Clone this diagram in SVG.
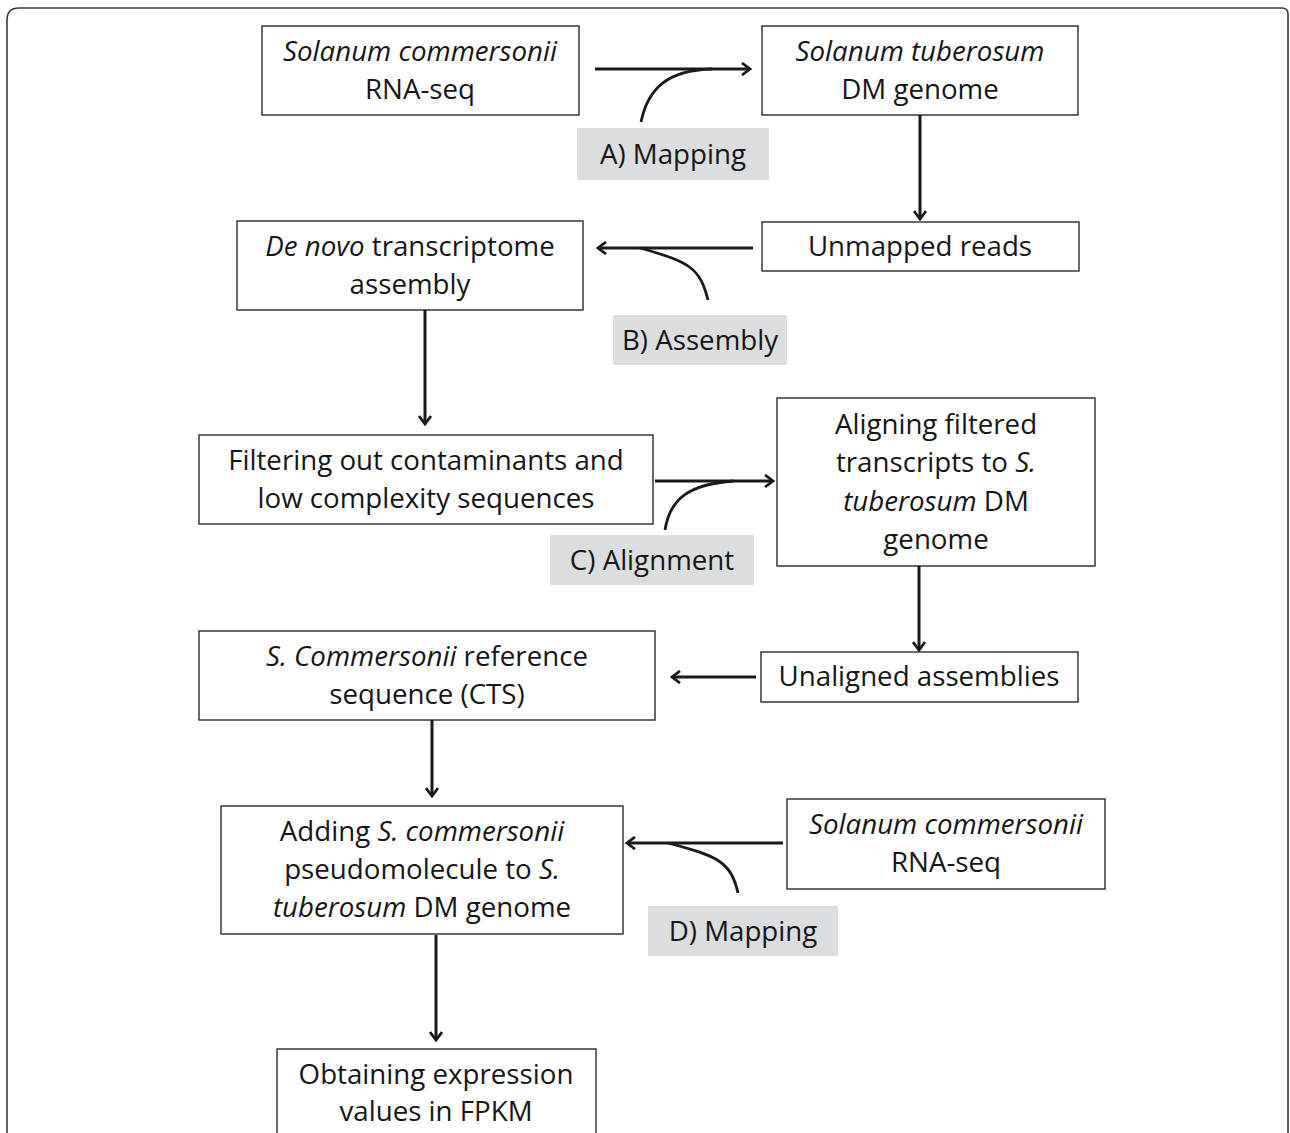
<svg xmlns="http://www.w3.org/2000/svg" width="1290" height="1133" viewBox="0 0 1290 1133">
<style>
.box{fill:#fff;stroke:#2b2b2b;stroke-width:1.4}
.lab{fill:#dcdddf;stroke:none}
text{font-family:"Open Sans","Liberation Sans",sans-serif;font-size:27.7px;fill:#161616;text-anchor:middle}
.i{font-style:italic}
.conn{fill:none;stroke:#1a1a1a;stroke-width:3}
.curve{fill:none;stroke:#1a1a1a;stroke-width:2.8}
</style>
<defs>
<marker id="ah" viewBox="0 0 14 14" refX="12" refY="7" markerWidth="14" markerHeight="14" markerUnits="userSpaceOnUse" orient="auto">
<polyline points="4,1 12,7 4,13" fill="none" stroke="#1a1a1a" stroke-width="2.8" stroke-linejoin="miter"/>
</marker>
</defs>
<rect width="1290" height="1133" fill="#fff"/>
<path d="M7,1133 V20 Q7,8 19,8 H1282 Q1288,8 1288,14 V1133" fill="none" stroke="#3a3a3a" stroke-width="1.6"/>

<g id="n1"><rect class="box" x="262" y="26" width="317" height="89"/>
<text x="420" y="61" class="i">Solanum commersonii</text><text x="420" y="99">RNA-seq</text></g>
<g id="n2"><rect class="box" x="762" y="26" width="316" height="89"/>
<text x="920" y="61" class="i">Solanum tuberosum</text><text x="920" y="99">DM genome</text></g>
<g id="n3"><rect class="box" x="762" y="222" width="317" height="49"/>
<text x="920" y="256">Unmapped reads</text></g>
<g id="n4"><rect class="box" x="237" y="221" width="346" height="89"/>
<text x="410" y="256"><tspan class="i">De novo</tspan> transcriptome</text><text x="410" y="294">assembly</text></g>
<g id="n5"><rect class="box" x="199" y="435" width="454" height="89"/>
<text x="426" y="470">Filtering out contaminants and</text><text x="426" y="508">low complexity sequences</text></g>
<g id="n6"><rect class="box" x="777" y="398" width="318" height="168"/>
<text x="936" y="434">Aligning filtered</text><text x="936" y="472">transcripts to <tspan class="i">S.</tspan></text><text x="936" y="511"><tspan class="i">tuberosum</tspan> DM</text><text x="936" y="549">genome</text></g>
<g id="n7"><rect class="box" x="761" y="652" width="317" height="50"/>
<text x="919" y="686">Unaligned assemblies</text></g>
<g id="n8"><rect class="box" x="199" y="631" width="456" height="89"/>
<text x="427" y="666"><tspan class="i">S. Commersonii</tspan> reference</text><text x="427" y="704">sequence (CTS)</text></g>
<g id="n9"><rect class="box" x="221" y="806" width="402" height="128"/>
<text x="422" y="841">Adding <tspan class="i">S. commersonii</tspan></text><text x="422" y="879">pseudomolecule to <tspan class="i">S.</tspan></text><text x="422" y="917"><tspan class="i">tuberosum</tspan> DM genome</text></g>
<g id="n10"><rect class="box" x="787" y="799" width="318" height="90"/>
<text x="946" y="834" class="i">Solanum commersonii</text><text x="946" y="872">RNA-seq</text></g>
<g id="n11"><rect class="box" x="277" y="1049" width="319" height="100"/>
<text x="436" y="1084">Obtaining expression</text><text x="436" y="1121">values in FPKM</text></g>

<g id="labA"><rect class="lab" x="577" y="128" width="192" height="52"/><text x="673" y="164">A) Mapping</text></g>
<g id="labB"><rect class="lab" x="613" y="315" width="174" height="50"/><text x="700" y="350">B) Assembly</text></g>
<g id="labC"><rect class="lab" x="550" y="535" width="204" height="50"/><text x="652" y="570">C) Alignment</text></g>
<g id="labD"><rect class="lab" x="648" y="906" width="190" height="50"/><text x="743" y="941">D) Mapping</text></g>

<g id="connectors">
<line class="conn" x1="595" y1="69" x2="750" y2="69" marker-end="url(#ah)"/>
<path class="curve" d="M641,122 C648,88 668,70 712,69"/>
<line class="conn" x1="920" y1="115" x2="920" y2="219" marker-end="url(#ah)"/>
<line class="conn" x1="753" y1="248" x2="598" y2="248" marker-end="url(#ah)"/>
<path class="curve" d="M708,300 C700,268 690,262 640,248"/>
<line class="conn" x1="425" y1="310" x2="425" y2="424" marker-end="url(#ah)"/>
<line class="conn" x1="655" y1="481" x2="773" y2="481" marker-end="url(#ah)"/>
<path class="curve" d="M665,530 C670,498 690,484 734,481"/>
<line class="conn" x1="919" y1="566" x2="919" y2="650" marker-end="url(#ah)"/>
<line class="conn" x1="756" y1="677" x2="672" y2="677" marker-end="url(#ah)"/>
<line class="conn" x1="432" y1="720" x2="432" y2="796" marker-end="url(#ah)"/>
<line class="conn" x1="783" y1="843" x2="627" y2="843" marker-end="url(#ah)"/>
<path class="curve" d="M738,893 C731,862 718,856 668,843"/>
<line class="conn" x1="436" y1="935" x2="436" y2="1040" marker-end="url(#ah)"/>
</g>
</svg>
